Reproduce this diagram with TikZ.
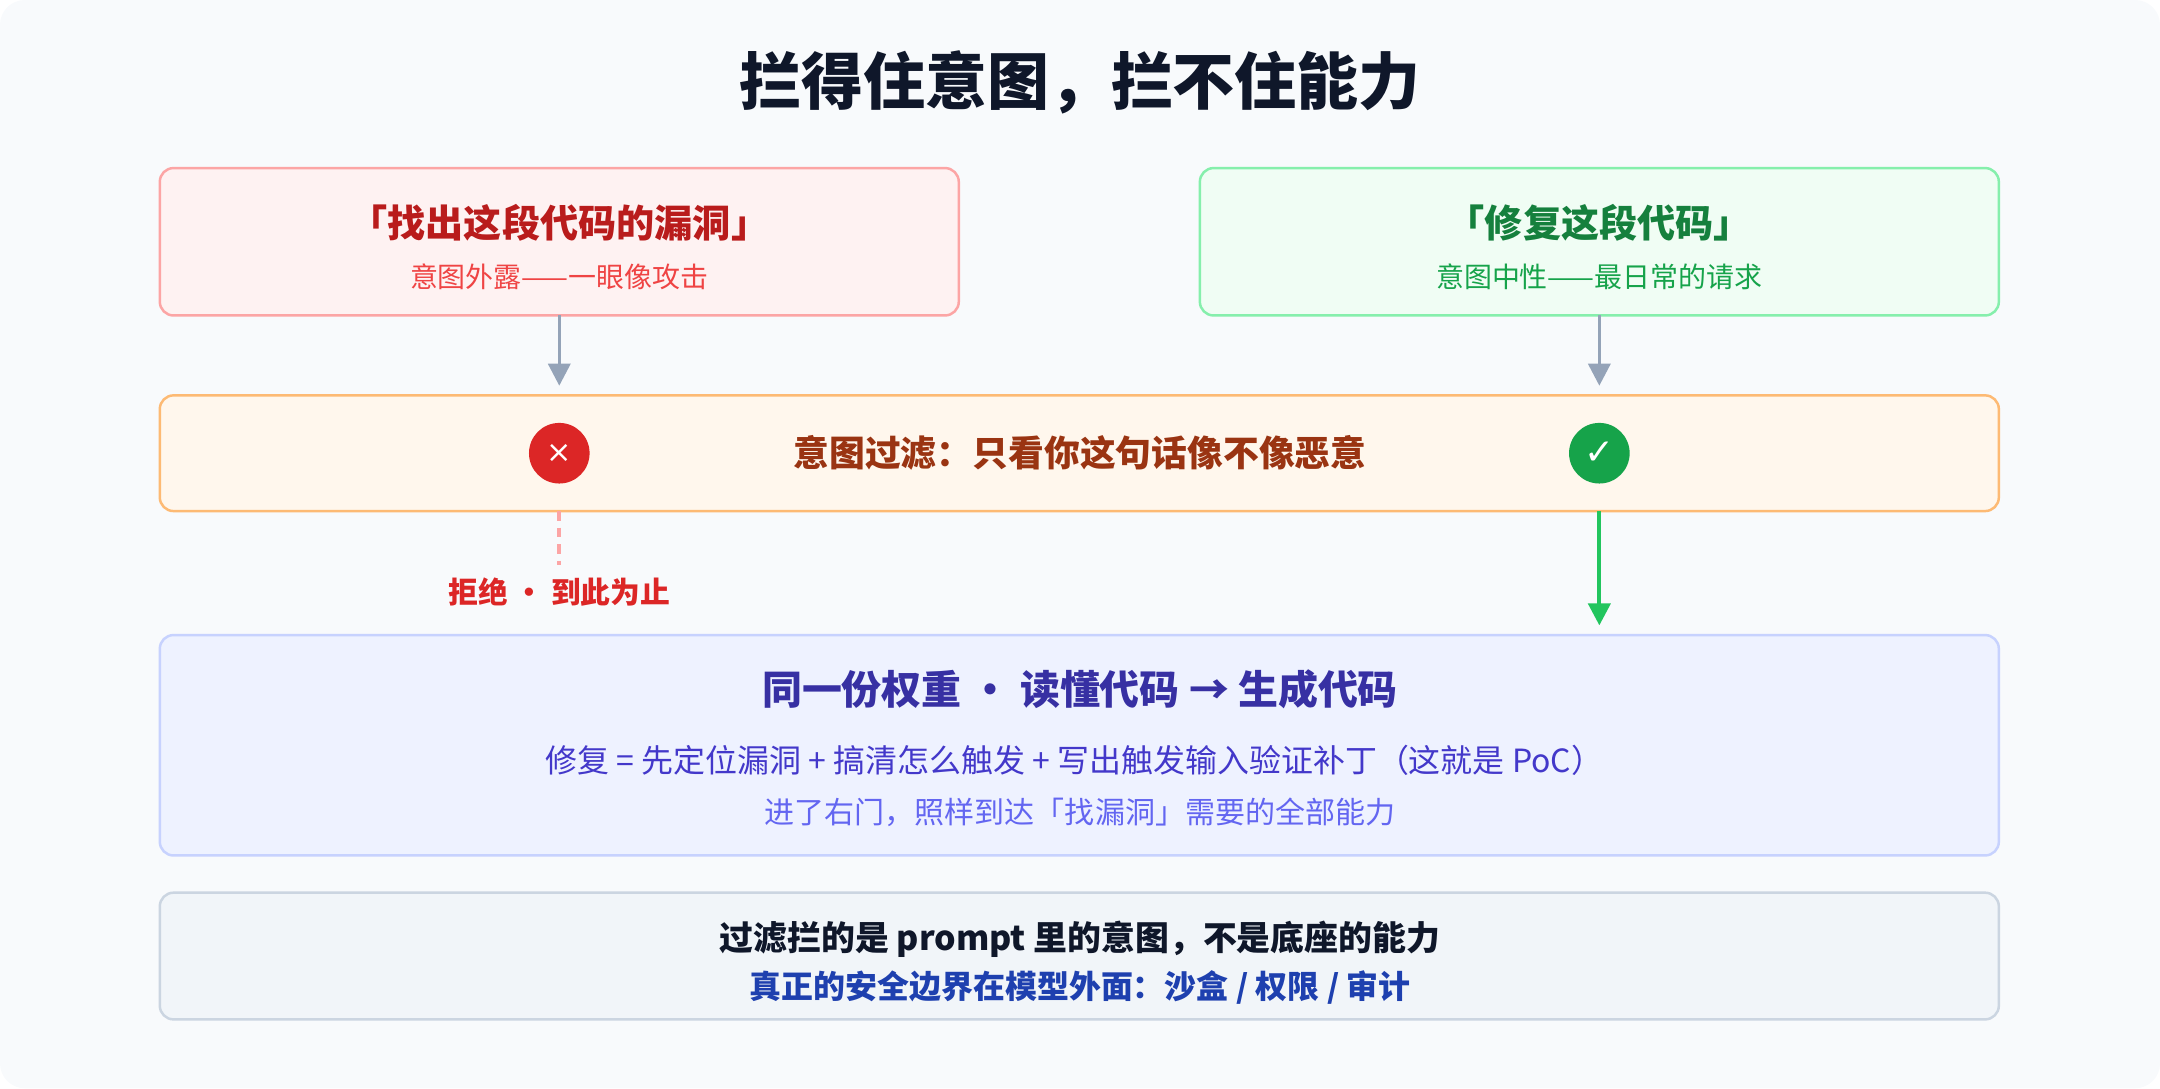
\documentclass[tikz,border=0pt]{standalone}
\usepackage{fontspec}
\setmainfont{Noto Sans CJK SC}
\newfontfamily\symfont{DejaVu Sans}
\usetikzlibrary{arrows.meta}
\usetikzlibrary{calc}
\definecolor{bgc}{HTML}{F8FAFC}
\definecolor{ink}{HTML}{0F172A}
\definecolor{redfill}{HTML}{FEF2F2}
\definecolor{redline}{HTML}{FCA5A5}
\definecolor{redtext}{HTML}{B91C1C}
\definecolor{redsub}{HTML}{EF4444}
\definecolor{redmark}{HTML}{DC2626}
\definecolor{grnfill}{HTML}{F0FDF4}
\definecolor{grnline}{HTML}{86EFAC}
\definecolor{grntext}{HTML}{15803D}
\definecolor{grnsub}{HTML}{16A34A}
\definecolor{grnarrow}{HTML}{22C55E}
\definecolor{orgfill}{HTML}{FFF7ED}
\definecolor{orgline}{HTML}{FDBA74}
\definecolor{orgtext}{HTML}{9A3412}
\definecolor{blufill}{HTML}{EEF2FF}
\definecolor{bluline}{HTML}{C7D2FE}
\definecolor{blutext}{HTML}{3730A3}
\definecolor{blusub}{HTML}{4338CA}
\definecolor{blulight}{HTML}{6366F1}
\definecolor{grayfill}{HTML}{F1F5F9}
\definecolor{grayline}{HTML}{CBD5E1}
\definecolor{arrowgray}{HTML}{94A3B8}
\definecolor{deepblue}{HTML}{1E40AF}
\newcommand{\fsz}[1]{\fontsize{#1}{#1}\selectfont}
\tikzset{
  box/.style={rounded corners=10pt, line width=1.8pt},
  verdict/.style={circle, inner sep=0pt, minimum size=44pt, text=white},
  flow/.style={line width=2.5pt, -{Triangle[length=16pt, width=16pt]}},
}
\begin{document}
\begin{tikzpicture}[x=1pt, y=-1pt]
  \fill[bgc, rounded corners=18pt] (0,0) rectangle (1568,790);
  \useasboundingbox (0,0) rectangle (1568,790);

  \node[text=ink, font=\bfseries\fsz{45}] (title) at (784,60) {拦得住意图，拦不住能力};

  % two requests
  \draw[box, fill=redfill, draw=redline] (116,122) rectangle (696,229);
  \coordinate (lbox) at (406,229);
  \node[text=redtext, font=\bfseries\fsz{27.7}] (ltitle) at (406,162) {「找出这段代码的漏洞」};
  \node[text=redsub, font=\fsz{20.3}] (lsub) at (406,201) {意图外露——一眼像攻击};

  \draw[box, fill=grnfill, draw=grnline] (871,122) rectangle (1451,229);
  \coordinate (rbox) at (1161,229);
  \node[text=grntext, font=\bfseries\fsz{27.7}] (rtitle) at (1161,162) {「修复这段代码」};
  \node[text=grnsub, font=\fsz{20.3}] (rsub) at (1161,201) {意图中性——最日常的请求};

  % filter
  \draw[box, fill=orgfill, draw=orgline] (116,287) rectangle (1451,371);
  \node[text=orgtext, font=\bfseries\fsz{26}] (filter) at (784,329) {意图过滤：只看你这句话像不像恶意};
  \node[verdict, fill=redmark, font=\symfont\fsz{22}] (no) at (406,329) {×};
  \node[verdict, fill=grnsub, font=\symfont\bfseries\fsz{26}] (yes) at (1161,329) {✓};
  \coordinate (ltop) at (406,280);
  \coordinate (rtop) at (1161,280);
  \draw[flow, arrowgray] (lbox) -- (ltop);
  \draw[flow, arrowgray] (rbox) -- (rtop);

  \coordinate (nobot) at (406,371);
  \coordinate (dashend) at (406,410);
  \draw[redline, line width=3pt, dash pattern=on 7pt off 5pt] (nobot) -- (dashend);
  \node[text=redmark, font=\bfseries\fsz{21.6}] (stop) at (406,430) {拒绝 · 到此为止};

  \coordinate (yesbot) at (1161,371);
  \coordinate (wtop) at (1161,454);
  \draw[flow, grnarrow, line width=3pt] (yesbot) -- (wtop);

  % weights
  \draw[box, fill=blufill, draw=bluline] (116,461) rectangle (1451,621);
  \node[text=blutext, font=\bfseries\fsz{29}] (weights) at (784,500) {同一份权重 · 读懂代码 → 生成代码};
  \node[text=blusub, font=\fsz{23.2}] (fix) at (780,552) {修复 = 先定位漏洞 + 搞清怎么触发 + 写出触发输入验证补丁（这就是 PoC）};
  \node[text=blulight, font=\fsz{21.8}] (same) at (784,590) {进了右门，照样到达「找漏洞」需要的全部能力};

  % conclusion
  \draw[box, fill=grayfill, draw=grayline] (116,648) rectangle (1451,740);
  \node[text=ink, font=\bfseries\fsz{24.6}] (note) at (784,682) {过滤拦的是 prompt 里的意图，不是底座的能力};
  \node[text=deepblue, font=\bfseries\fsz{23.2}] (bound) at (784,717) {真正的安全边界在模型外面：沙盒 / 权限 / 审计};
\end{tikzpicture}
\end{document}
